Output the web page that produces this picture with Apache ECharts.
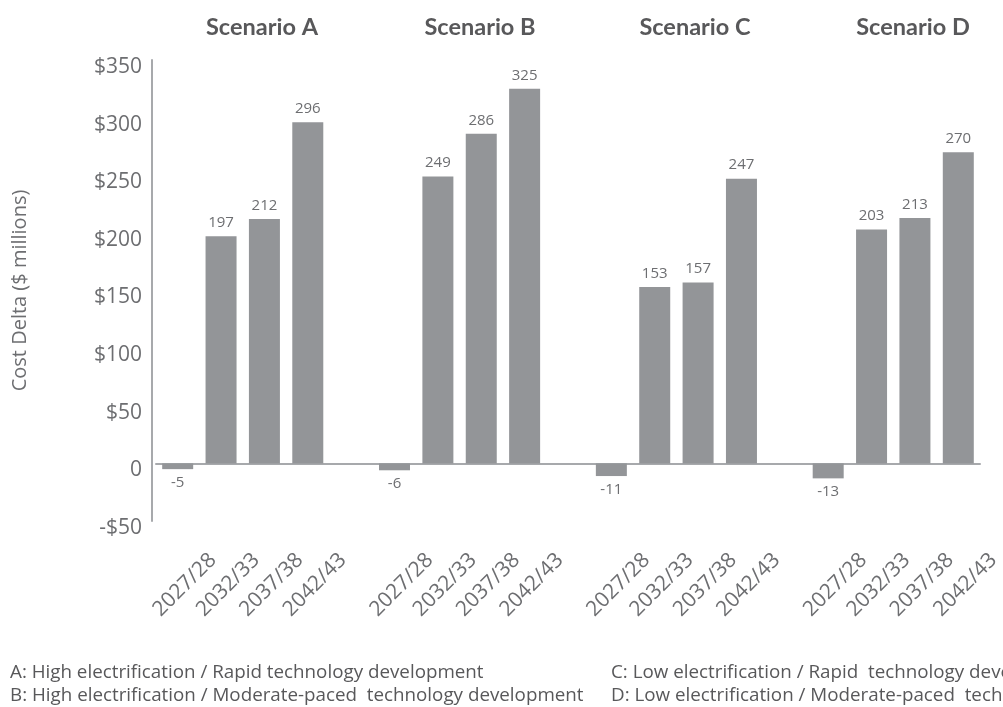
<!DOCTYPE html>
<html>
<head>
<meta charset="utf-8">
<script src="https://cdn.jsdelivr.net/npm/echarts@6/dist/echarts.min.js"></script>
<style>
html,body{margin:0;padding:0;background:#fff;}
#main{width:1003px;height:707px;}
</style>
</head>
<body>
<div id="main"></div>
<script>
var scenarios = ['Scenario A', 'Scenario B', 'Scenario C', 'Scenario D'];
var periods = ['2027/28', '2032/33', '2037/38', '2042/43'];
var valuesA = [-5, 197, 212, 296];
var valuesB = [-6, 249, 286, 325];
var valuesC = [-11, 153, 157, 247];
var valuesD = [-13, 203, 213, 270];
var yTicks = [-50, 0, 50, 100, 150, 200, 250, 300, 350];
var footnotes = [
  'A: High electrification / Rapid technology development',
  'B: High electrification / Moderate-paced  technology development',
  'C: Low electrification / Rapid  technology development',
  'D: Low electrification / Moderate-paced  technology development'
];

var groups = [valuesA, valuesB, valuesC, valuesD];
var categories = [];
var data = [];
groups.forEach(function (vals, gi) {
  vals.forEach(function (v, i) {
    categories.push(periods[i]);
    data.push({
      value: v,
      label: { position: v < 0 ? 'bottom' : 'top' }
    });
  });
  if (gi < groups.length - 1) {
    categories.push('');
    data.push('-');
  }
});

var grey = '#939598';

var chart = echarts.init(document.getElementById('main'), null, { renderer: 'canvas' });
var titleX = [257, 475, 690, 908];
chart.setOption({
  animation: false,
  backgroundColor: '#ffffff',
  title: scenarios.map(function (s, i) {
    return {
      text: s,
      left: titleX[i],
      top: 10,
      textAlign: 'center',
      textStyle: { fontFamily: 'Lato', fontWeight: 'bold', fontSize: 23.5, color: '#58585a' }
    };
  }),
  grid: { left: 156, right: 19, top: 60, bottom: 186, containLabel: false },
  xAxis: {
    type: 'category',
    data: categories,
    axisLine: { onZero: true, lineStyle: { color: '#a7a9ac', width: 2 } },
    axisTick: { show: false },
    axisLabel: {
      interval: 0,
      rotate: 45,
      align: 'center',
      verticalAlign: 'middle',
      margin: 71,
      formatter: function (v) { return v ? '{t|' + v + '}' : ''; },
      rich: {
        t: {
          fontFamily: 'Open Sans',
          fontSize: 21,
          color: '#6d6e71',
          padding: [0, 0, 0, 20]
        }
      }
    },
    splitLine: { show: false }
  },
  yAxis: {
    type: 'value',
    min: -50,
    max: 350,
    interval: 50,
    offset: 4,
    name: 'Cost Delta ($ millions)',
    nameLocation: 'middle',
    nameGap: 122,
    nameTextStyle: { fontFamily: 'Open Sans', fontSize: 20, color: '#6d6e71' },
    axisLine: { show: true, onZero: false, lineStyle: { color: '#a7a9ac', width: 2 } },
    axisTick: { show: false },
    splitLine: { show: false },
    axisLabel: {
      margin: 10,
      formatter: function (v) {
        if (yTicks.indexOf(v) < 0) return '';
        var s = v === 0 ? '0' : (v < 0 ? '-$' : '$') + Math.abs(v);
        return '{a|' + s + '}';
      },
      rich: {
        a: {
          fontFamily: 'Open Sans',
          fontSize: 21,
          color: '#6d6e71',
          padding: [14, 0, 0, 0]
        }
      }
    }
  },
  series: [{
    type: 'bar',
    data: data,
    barWidth: 31,
    itemStyle: { color: grey },
    label: {
      show: true,
      distance: 6,
      fontFamily: 'Open Sans',
      fontSize: 15,
      color: '#6d6e71'
    }
  }],
  graphic: [
    { type: 'text', left: 10, top: 663, style: { text: footnotes[0], font: '18.8px "Open Sans"', fill: '#58585a' } },
    { type: 'text', left: 10, top: 686, style: { text: footnotes[1], font: '18.8px "Open Sans"', fill: '#58585a' } },
    { type: 'text', left: 611, top: 663, style: { text: footnotes[2], font: '18.8px "Open Sans"', fill: '#58585a' } },
    { type: 'text', left: 611, top: 686, style: { text: footnotes[3], font: '18.8px "Open Sans"', fill: '#58585a' } }
  ]
});
</script>
</body>
</html>
